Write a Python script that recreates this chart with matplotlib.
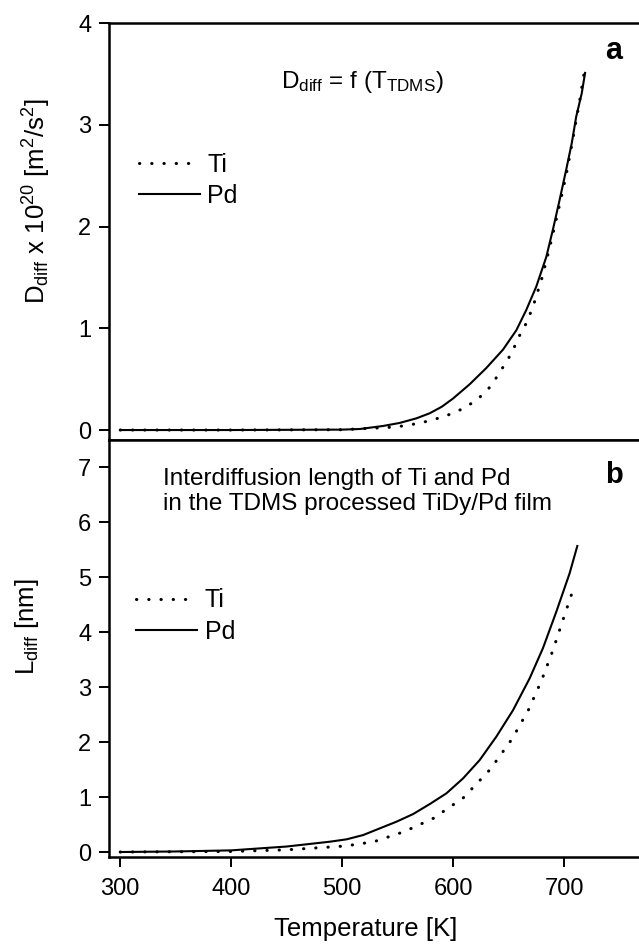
import matplotlib
matplotlib.use('Agg')
import matplotlib.pyplot as plt

plt.rcParams['font.family'] = ['Liberation Sans', 'DejaVu Sans']
plt.rcParams['mathtext.default'] = 'regular'

# (a) diffusion coefficient vs temperature
temp_ti_a = [300, 400, 500, 542, 555, 569, 582, 596, 609, 622, 634, 644, 653, 659, 666,
             672, 680, 687, 693, 698, 702, 707, 714, 718.3]
d_ti = [0, 0, 0.003, 0.026, 0.04, 0.066, 0.10, 0.15, 0.21, 0.30, 0.43, 0.60, 0.76, 0.91, 1.05,
        1.21, 1.49, 1.79, 2.07, 2.31, 2.51, 2.80, 3.23, 3.52]
temp_pd_a = [300, 400, 500, 516, 537, 552, 567, 579, 590, 600, 615, 630, 645, 657, 666,
             675, 684, 690, 696, 702, 707, 711, 716, 719]
d_pd = [0, 0, 0.004, 0.01, 0.04, 0.07, 0.115, 0.165, 0.23, 0.31, 0.45, 0.61, 0.79, 0.98, 1.18,
        1.41, 1.70, 1.97, 2.26, 2.56, 2.82, 3.08, 3.31, 3.51]

# (b) interdiffusion length vs temperature
temp_ti_b = [300, 400, 450, 502.6, 528.8, 555.8, 582.2, 609.3, 633.3, 652.9, 667.8, 679.9,
             689.8, 698.8, 707.8]
l_ti = [0, 0.01, 0.04, 0.109, 0.188, 0.37, 0.613, 0.988, 1.50, 2.05, 2.58, 3.13,
        3.66, 4.21, 4.75]
temp_pd_b = [300, 350, 400, 450, 489, 504, 519, 534, 549, 564, 579, 594, 609, 624, 639,
             654, 669, 681, 693, 705, 712]
l_pd = [0, 0.01, 0.03, 0.10, 0.188, 0.231, 0.309, 0.431, 0.552, 0.691, 0.873, 1.068, 1.34,
        1.674, 2.10, 2.58, 3.16, 3.71, 4.37, 5.07, 5.57]

xticks = [300, 400, 500, 600, 700]

fig = plt.figure(figsize=(6.39, 9.44), dpi=100)
ax1 = fig.add_axes([0.1703, 0.5339, 0.8297, 0.4417])
ax2 = fig.add_axes([0.1703, 0.0922, 0.8297, 0.4417])

dot = dict(color='black', lw=2.2, linestyle=(0, (0.1, 3.9)), dash_capstyle='round')
solid = dict(color='black', lw=1.5)

ax1.plot(temp_ti_a, d_ti, label='Ti', **dot)
ax1.plot(temp_pd_a, d_pd, label='Pd', **solid)
ax2.plot(temp_ti_b, l_ti, label='Ti', **dot)
ax2.plot(temp_pd_b, l_pd, label='Pd', **solid)

for ax in (ax1, ax2):
    ax.set_xlim(289.7, 767.6)
    ax.set_xticks(xticks)
    ax.spines['right'].set_visible(False)
    for s in ('left', 'top', 'bottom'):
        ax.spines[s].set_linewidth(1.8)
    ax.tick_params(direction='out', length=7.5, width=1.4, labelsize=17)
    ax.tick_params(axis='y', pad=5)
    ax.tick_params(axis='x', pad=8)

ax1.set_ylim(-0.098, 4.0)
ax1.set_yticks([0, 1, 2, 3, 4])
ax1.tick_params(axis='x', labelbottom=False)
ax2.set_ylim(-0.09, 7.5)
ax2.set_yticks(range(8))

ax1.set_ylabel('D$_{diff}$ x 10$^{20}$ [m$^{2}$/s$^{2}$]', fontsize=18.5)
ax1.yaxis.set_label_coords(-0.105, 0.572)
ax2.set_ylabel('L$_{diff}$ [nm]', fontsize=18.5)
ax2.yaxis.set_label_coords(-0.127, 0.553)
ax2.set_xlabel('Temperature [K]', fontsize=18.5)
ax2.xaxis.set_label_coords(0.4845, -0.144)

ax1.text(0.4776, 0.844, 'D$_{diff}$ = f (T$_{TDMS}$)', transform=ax1.transAxes,
         ha='center', va='baseline', fontsize=17.5)
ax1.text(0.936, 0.914, 'a', transform=ax1.transAxes, fontsize=22,
         fontweight='bold', va='baseline')
ax2.text(0.936, 0.897, 'b', transform=ax2.transAxes, fontsize=21,
         fontweight='bold', va='baseline')
ax2.text(0.1026, 0.892, 'Interdiffusion length of Ti and Pd', transform=ax2.transAxes,
         fontsize=17.5, va='baseline')
ax2.text(0.1026, 0.832, 'in the TDMS processed TiDy/Pd film', transform=ax2.transAxes,
         fontsize=17.5, va='baseline')

leg_kw = dict(loc='upper left', frameon=False, fontsize=18, handlelength=2.44,
              handletextpad=0.3, labelspacing=0.3, borderpad=0, borderaxespad=0)
ax1.legend(bbox_to_anchor=(0.056, 0.689), **leg_kw)
ax2.legend(bbox_to_anchor=(0.052, 0.644), **leg_kw)

fig.savefig('out.png', dpi=100)
